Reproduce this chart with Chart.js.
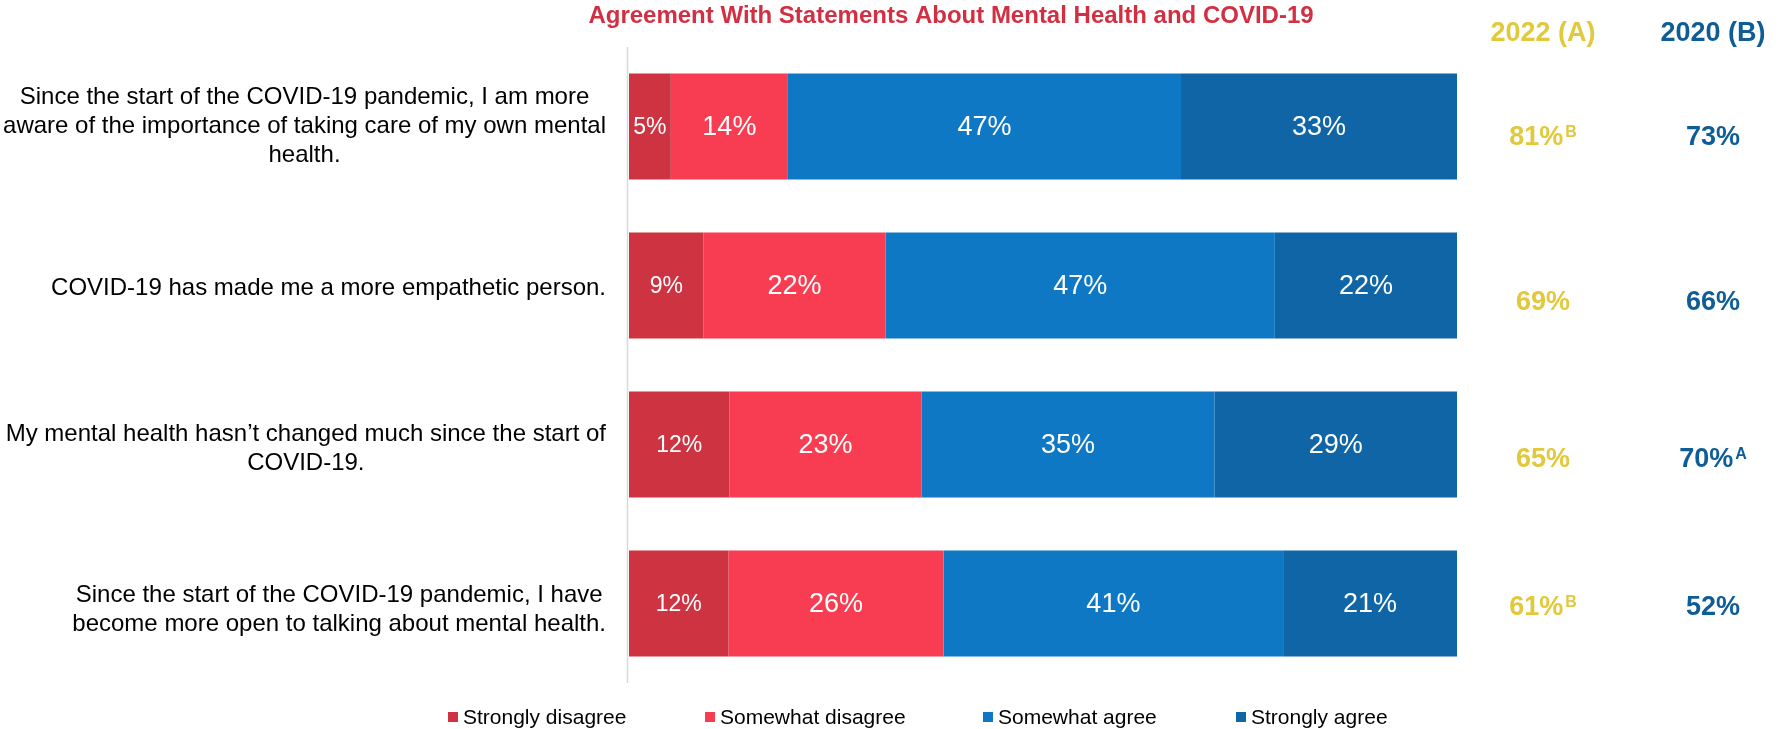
<!DOCTYPE html>
<html>
<head>
<meta charset="utf-8">
<script src="https://cdn.jsdelivr.net/npm/chart.js@4"></script>
<style>
  html, body { margin: 0; padding: 0; background: #fff; }
</style>
</head>
<body>
<canvas id="myChart" width="1785" height="729"></canvas>
<script>
// statements (one entry per bar, split into the lines used on the slide)
const statements = [
    ['Since the start of the COVID-19 pandemic, I am more', 'aware of the importance of taking care of my own mental', 'health.'],
    ['COVID-19 has made me a more empathetic person.'],
    ['My mental health hasn\u2019t changed much since the start of', 'COVID-19.'],
    ['Since the start of the COVID-19 pandemic, I have', 'become more open to talking about mental health.']
];
const seriesNames = ['Strongly disagree', 'Somewhat disagree', 'Somewhat agree', 'Strongly agree'];
const stronglyDisagree = [5, 9, 12, 12];
const somewhatDisagree = [14, 22, 23, 26];
const somewhatAgree = [47, 47, 35, 41];
const stronglyAgree = [33, 22, 29, 21];

// agreement totals by year, with significance letters
const columnHeaders = ['2022 (A)', '2020 (B)'];
const agree2022 = [81, 69, 65, 61];
const sig2022 = ['B', '', '', 'B'];
const agree2020 = [73, 66, 70, 52];
const sig2020 = ['', '', 'A', ''];

const chartTitle = 'Agreement With Statements About Mental Health and COVID-19';

const FONT = '"Liberation Sans", Arial, sans-serif';
const colors = ['#CD3341', '#F83D53', '#0E78C5', '#0F65A5'];
const yearColors = ['#E2C83B', '#0F5D96'];

document.addEventListener('DOMContentLoaded', function() {
    const seriesValues = [stronglyDisagree, somewhatDisagree, somewhatAgree, stronglyAgree];
    // 100% stacked: each row is scaled to its own total
    const rowTotals = statements.map((s, i) => seriesValues.reduce((sum, arr) => sum + arr[i], 0));

    const datasets = seriesNames.map((name, k) => ({
        label: name,
        data: seriesValues[k].map((v, i) => v / rowTotals[i] * 100),
        raw: seriesValues[k],
        backgroundColor: colors[k],
        borderWidth: 0,
        categoryPercentage: 1,
        barPercentage: 0.667
    }));

    const decorations = {
        id: 'decorations',
        afterDatasetsDraw(chart) {
            const ctx = chart.ctx;
            ctx.save();
            ctx.fillStyle = '#fff';
            ctx.textAlign = 'center';
            ctx.textBaseline = 'middle';
            chart.data.datasets.forEach((ds, k) => {
                const meta = chart.getDatasetMeta(k);
                ctx.font = (k === 0 ? 23 : 27) + 'px ' + FONT;
                meta.data.forEach((bar, i) => {
                    const cx = (bar.x + bar.base) / 2;
                    ctx.fillText(ds.raw[i] + '%', cx, bar.y + 1);
                });
            });
            ctx.restore();
        },
        afterDraw(chart) {
            const ctx = chart.ctx;
            const area = chart.chartArea;
            const yScale = chart.scales.y;
            ctx.save();

            // vertical axis line
            ctx.strokeStyle = '#D9D9D9';
            ctx.lineWidth = 1.5;
            ctx.beginPath();
            ctx.moveTo(area.left - 1.5, area.top);
            ctx.lineTo(area.left - 1.5, area.bottom);
            ctx.stroke();

            // title
            ctx.fillStyle = '#D22F42';
            ctx.font = 'bold 24px ' + FONT;
            ctx.textAlign = 'center';
            ctx.textBaseline = 'middle';
            ctx.fillText(chartTitle, 951, 16);

            // year headers
            const colX = [1543, 1713];
            ctx.font = 'bold 27px ' + FONT;
            columnHeaders.forEach((h, c) => {
                ctx.fillStyle = yearColors[c];
                ctx.fillText(h, colX[c], 34);
            });

            // statement labels, centred block right-aligned to the axis
            ctx.fillStyle = '#000';
            ctx.font = '24px ' + FONT;
            const lineH = 29;
            const labelShift = [0, 3, 4, 6];
            statements.forEach((lines, i) => {
                const cy = yScale.getPixelForValue(i) + labelShift[i];
                const maxW = Math.max(...lines.map(l => ctx.measureText(l).width));
                const cx = 606 - maxW / 2;
                const y0 = cy - (lines.length - 1) * lineH / 2;
                lines.forEach((l, j) => ctx.fillText(l, cx, y0 + j * lineH));
            });

            // agreement totals
            const rowShift = [11, 17, 15, 4];
            const cols = [[agree2022, sig2022], [agree2020, sig2020]];
            cols.forEach(([vals, sigs], c) => {
                ctx.fillStyle = yearColors[c];
                vals.forEach((v, i) => {
                    const y = yScale.getPixelForValue(i) + rowShift[i];
                    const main = v + '%';
                    ctx.font = 'bold 27px ' + FONT;
                    const w1 = ctx.measureText(main).width;
                    ctx.font = 'bold 16px ' + FONT;
                    const w2 = sigs[i] ? ctx.measureText(sigs[i]).width + 2 : 0;
                    const left = colX[c] - (w1 + w2) / 2;
                    ctx.textAlign = 'left';
                    ctx.font = 'bold 27px ' + FONT;
                    ctx.fillText(main, left, y);
                    if (sigs[i]) {
                        ctx.font = 'bold 16px ' + FONT;
                        ctx.fillText(sigs[i], left + w1 + 2, y - 5);
                    }
                });
            });

            // legend
            const legendX = [448, 705, 983, 1236];
            ctx.font = '21px ' + FONT;
            ctx.textAlign = 'left';
            seriesNames.forEach((name, k) => {
                ctx.fillStyle = colors[k];
                ctx.fillRect(legendX[k], 712, 10, 10);
                ctx.fillStyle = '#000';
                ctx.fillText(name, legendX[k] + 15, 718);
            });

            ctx.restore();
        }
    };

    const ctx = document.getElementById('myChart').getContext('2d');
    new Chart(ctx, {
        type: 'bar',
        data: {
            labels: statements.map(l => l.join(' ')),
            datasets: datasets
        },
        options: {
            indexAxis: 'y',
            responsive: false,
            animation: false,
            layout: {
                padding: { left: 629, right: 328, top: 47, bottom: 46 }
            },
            scales: {
                x: { stacked: true, min: 0, max: 100, display: false },
                y: { stacked: true, display: false }
            },
            plugins: {
                legend: { display: false },
                tooltip: { enabled: false }
            }
        },
        plugins: [decorations]
    });
});
</script>
</body>
</html>
